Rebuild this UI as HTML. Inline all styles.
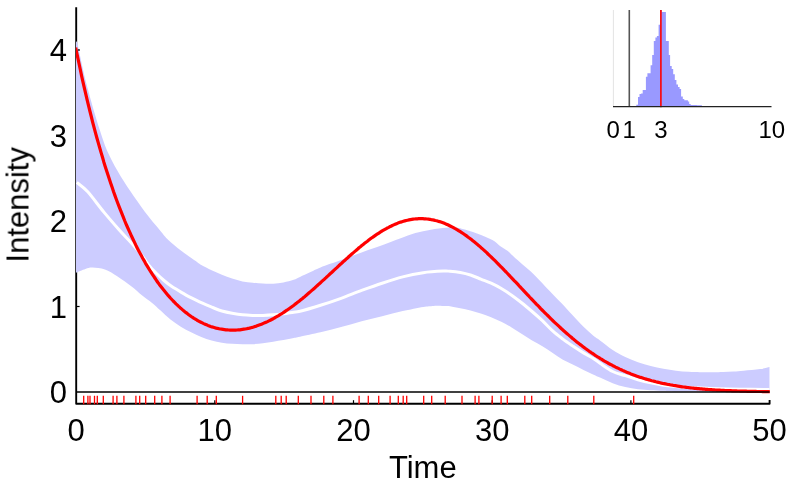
<!DOCTYPE html>
<html><head><meta charset="utf-8"><style>
html,body{margin:0;padding:0;background:#fff;}
svg{display:block;font-family:"Liberation Sans",sans-serif;}
</style></head><body>
<svg width="789" height="487" viewBox="0 0 789 487">
<rect width="789" height="487" fill="#fff"/>
<defs><clipPath id="cp"><rect x="75.9" y="0" width="693.9" height="420"/></clipPath></defs>
<g stroke="#000" stroke-width="1.9" fill="none">
<polyline points="76.2,7.2 76.2,403.7 769.6,403.7 769.6,400" stroke-linejoin="round"/>
</g>
<g stroke="#000" stroke-width="1.2"><line x1="76" y1="306.5" x2="79.6" y2="306.5"/><line x1="76" y1="221.0" x2="79.6" y2="221.0"/><line x1="76" y1="135.5" x2="79.6" y2="135.5"/><line x1="76" y1="50.0" x2="79.6" y2="50.0"/></g>
<g clip-path="url(#cp)">
<path d="M75.9,42.7 C76.2,42.9 76.2,38.9 77.4,43.6 C78.6,48.3 81.5,63.0 83.3,71.0 C85.1,79.0 86.7,84.8 88.5,91.6 C90.3,98.4 92.3,105.6 94.2,112.0 C96.1,118.4 97.7,123.6 99.8,130.0 C101.9,136.4 104.0,143.7 107.0,150.5 C110.0,157.3 113.7,164.2 117.6,171.0 C121.5,177.8 126.0,184.8 130.6,191.6 C135.2,198.4 140.2,205.6 145.0,212.0 C149.8,218.4 155.8,225.3 159.7,230.0 C163.6,234.7 165.1,236.9 168.6,240.3 C172.1,243.7 176.4,247.1 180.9,250.5 C185.4,253.9 191.9,258.4 195.3,260.8 C198.7,263.2 198.6,263.5 201.3,265.1 C204.0,266.7 208.2,268.7 211.6,270.3 C215.0,271.9 218.5,273.4 221.9,274.8 C225.3,276.2 228.7,277.4 232.1,278.5 C235.5,279.6 239.0,280.7 242.4,281.4 C245.8,282.1 249.3,282.3 252.7,282.7 C256.1,283.1 259.5,283.4 262.9,283.6 C266.3,283.8 269.8,283.9 273.2,283.7 C276.6,283.5 280.1,283.1 283.5,282.4 C286.9,281.7 290.9,280.6 293.7,279.7 C296.4,278.8 297.3,278.1 300.0,276.9 C302.7,275.7 306.6,273.9 310.0,272.3 C313.4,270.7 315.3,269.4 320.5,267.4 C325.7,265.3 334.2,262.5 341.1,260.0 C348.0,257.5 354.8,254.9 361.6,252.4 C368.4,249.9 375.7,247.5 382.1,245.2 C388.5,242.9 394.4,240.5 400.0,238.5 C405.6,236.5 410.3,234.6 415.4,233.1 C420.5,231.6 425.7,230.6 430.8,229.7 C435.9,228.8 442.2,228.0 446.2,227.7 C450.2,227.3 452.4,227.4 455.0,227.6 C457.6,227.8 457.9,227.8 461.6,228.8 C465.3,229.8 471.9,231.5 477.0,233.4 C482.1,235.3 488.6,237.9 492.4,240.0 C496.2,242.1 497.4,244.1 500.0,245.9 C502.6,247.7 505.2,248.9 507.8,251.0 C510.4,253.1 511.6,254.8 515.4,258.2 C519.2,261.6 525.7,266.7 530.8,271.6 C535.9,276.5 541.1,282.1 546.2,287.4 C551.3,292.7 557.2,298.6 561.6,303.2 C566.0,307.8 568.8,311.1 572.4,315.0 C576.0,318.9 580.0,323.3 583.5,326.8 C587.0,330.3 591.0,333.8 593.7,336.1 C596.5,338.4 596.8,338.1 600.0,340.4 C603.2,342.7 608.5,347.2 612.7,350.0 C616.9,352.8 621.1,354.9 625.3,357.0 C629.5,359.1 633.8,360.8 638.0,362.3 C642.2,363.8 646.5,365.0 650.7,366.1 C654.9,367.2 659.2,368.0 663.4,368.8 C667.6,369.6 671.8,370.2 676.0,370.7 C680.2,371.2 684.7,371.6 688.7,371.8 C692.7,372.1 696.0,372.1 700.0,372.2 C704.0,372.3 709.0,372.2 712.9,372.2 C716.8,372.2 719.8,372.1 723.2,372.0 C726.6,371.9 730.1,371.8 733.5,371.6 C736.9,371.4 739.3,371.2 743.7,370.8 C748.1,370.4 755.7,369.7 760.0,369.1 C764.3,368.5 768.0,367.4 769.6,367.0 L769.6,391.5 C754.7,391.5 697.7,391.6 680.0,391.5 C662.3,391.4 668.3,391.0 663.4,390.8 C658.5,390.6 654.9,390.6 650.7,390.3 C646.5,390.1 642.2,389.8 638.0,389.3 C633.8,388.8 629.5,388.1 625.3,387.1 C621.1,386.1 616.9,384.8 612.7,383.2 C608.5,381.6 603.2,379.0 600.0,377.6 C596.8,376.2 596.5,376.0 593.7,374.7 C591.0,373.4 586.9,371.5 583.5,369.9 C580.1,368.2 576.6,366.5 573.2,364.8 C569.8,363.1 566.3,361.6 562.9,359.7 C559.5,357.8 556.1,355.3 552.7,353.1 C549.3,350.9 545.8,348.4 542.4,346.3 C539.0,344.2 535.5,342.7 532.1,340.6 C528.7,338.6 525.3,336.2 521.9,334.0 C518.5,331.8 515.0,329.4 511.6,327.4 C508.2,325.3 504.7,323.4 501.3,321.7 C497.9,320.0 494.5,318.6 491.1,317.2 C487.7,315.8 484.2,314.6 480.8,313.5 C477.4,312.4 473.9,311.3 470.5,310.4 C467.1,309.5 463.7,309.0 460.3,308.3 C456.9,307.6 452.8,306.7 450.0,306.3 C447.2,305.9 446.4,306.1 443.7,306.0 C440.9,305.9 436.9,305.7 433.5,305.9 C430.1,306.1 428.3,306.1 423.2,307.0 C418.1,307.9 409.5,309.6 402.7,311.1 C395.9,312.6 389.0,314.5 382.1,316.2 C375.2,317.9 368.4,319.5 361.6,321.3 C354.8,323.1 348.0,325.3 341.1,327.1 C334.2,328.9 327.4,330.6 320.5,332.2 C313.6,333.8 304.5,335.7 300.0,336.7 C295.5,337.7 296.4,337.4 293.7,338.0 C290.9,338.6 286.9,339.5 283.5,340.1 C280.1,340.7 276.6,341.2 273.2,341.7 C269.8,342.2 266.3,342.8 262.9,343.2 C259.5,343.6 256.1,344.0 252.7,344.2 C249.3,344.4 245.8,344.3 242.4,344.2 C239.0,344.1 235.5,344.0 232.1,343.8 C228.7,343.6 225.3,343.4 221.9,342.8 C218.5,342.2 215.0,341.5 211.6,340.5 C208.2,339.5 204.7,338.4 201.3,337.0 C197.9,335.6 194.5,334.0 191.1,332.3 C187.7,330.6 184.2,328.8 180.8,326.7 C177.4,324.6 173.9,322.2 170.5,319.5 C167.1,316.8 163.4,313.1 160.3,310.3 C157.2,307.5 155.2,305.4 152.1,302.9 C149.0,300.4 145.3,298.0 141.9,295.3 C138.5,292.6 135.7,289.7 131.6,286.5 C127.5,283.3 121.7,279.1 117.2,276.2 C112.8,273.3 109.0,270.8 104.9,269.4 C100.8,268.0 95.8,267.7 92.6,267.6 C89.3,267.5 88.2,268.1 85.4,269.0 C82.6,269.9 77.5,272.1 75.9,272.7Z" fill="#ccccff"/>
<path d="M76.8,182.4 C78.6,183.9 83.0,186.7 87.5,191.6 C92.0,196.5 98.6,205.7 103.9,212.1 C109.2,218.5 114.7,224.8 119.3,230.0 C123.9,235.2 127.8,239.1 131.6,243.3 C135.4,247.5 139.1,251.7 141.9,255.3 C144.7,258.9 146.2,262.1 148.6,265.0 C150.9,267.9 153.4,270.4 156.0,273.0 C158.6,275.6 161.4,278.3 164.0,280.5 C166.6,282.7 168.5,284.3 171.5,286.3 C174.5,288.3 178.4,290.6 181.8,292.6 C185.2,294.6 188.6,296.4 192.0,298.2 C195.4,300.0 199.1,301.6 202.5,303.2 C205.9,304.8 209.4,306.2 212.6,307.5 C215.8,308.8 218.7,310.1 221.9,311.0 C225.2,311.9 228.7,312.6 232.1,313.2 C235.5,313.8 239.0,314.4 242.4,314.8 C245.8,315.2 249.3,315.3 252.7,315.4 C256.1,315.5 259.5,315.5 262.9,315.4 C266.3,315.3 269.8,315.1 273.2,314.8 C276.6,314.5 280.1,314.2 283.5,313.8 C286.9,313.4 290.9,312.6 293.7,312.2 C296.4,311.8 295.5,312.4 300.0,311.3 C304.5,310.2 313.6,307.5 320.5,305.3 C327.4,303.1 334.2,300.8 341.1,298.3 C348.0,295.8 354.8,292.9 361.6,290.4 C368.4,287.9 375.2,285.4 382.1,283.2 C389.0,280.9 395.9,278.6 402.7,276.9 C409.5,275.1 416.4,273.7 423.2,272.7 C430.0,271.7 439.2,271.3 443.7,271.1 C448.2,270.9 447.2,271.1 450.0,271.3 C452.8,271.5 456.9,271.9 460.3,272.5 C463.7,273.1 467.1,273.9 470.5,275.0 C473.9,276.1 477.4,277.7 480.8,279.1 C484.2,280.5 487.7,281.6 491.1,283.2 C494.5,284.8 497.9,286.5 501.3,288.5 C504.7,290.5 508.2,292.8 511.6,295.2 C515.0,297.6 518.5,300.3 521.9,303.0 C525.3,305.7 528.7,308.6 532.1,311.5 C535.5,314.4 539.0,317.5 542.4,320.7 C545.8,323.9 549.3,327.8 552.7,330.9 C556.1,334.0 559.5,336.5 562.9,339.1 C566.3,341.7 569.8,344.0 573.2,346.3 C576.6,348.6 580.1,350.8 583.5,352.9 C586.9,355.0 591.0,357.0 593.7,358.7 C596.5,360.4 596.8,361.2 600.0,363.3 C603.2,365.4 608.5,369.4 612.7,371.5 C616.9,373.6 621.1,374.3 625.3,375.7 C629.5,377.1 633.8,378.5 638.0,379.7 C642.2,380.9 646.5,382.0 650.7,382.9 C654.9,383.8 659.2,384.6 663.4,385.2 C667.6,385.8 671.6,386.1 676.0,386.5 C680.4,386.9 684.3,387.3 690.0,387.6 C695.7,387.9 701.7,388.1 710.0,388.4 C718.3,388.7 730.1,389.0 740.0,389.2 C749.9,389.4 764.7,389.5 769.6,389.6" fill="none" stroke="#fff" stroke-width="3" stroke-linejoin="round"/>
<path d="M75.7,47.6 L76.1,49.7 L77.5,56.4 L78.9,63.0 L80.3,69.5 L81.6,75.9 L83.0,82.1 L84.4,88.2 L85.8,94.2 L87.2,100.1 L88.6,105.8 L90.0,111.5 L91.4,117.0 L92.7,122.4 L94.1,127.7 L95.5,132.9 L96.9,138.0 L98.3,142.9 L99.7,147.8 L101.1,152.6 L102.5,157.3 L103.8,161.9 L105.2,166.4 L106.6,170.8 L108.0,175.1 L109.4,179.3 L110.8,183.5 L112.2,187.5 L113.5,191.5 L114.9,195.4 L116.3,199.2 L117.7,203.0 L119.1,206.6 L120.5,210.2 L121.9,213.7 L123.3,217.1 L124.6,220.5 L126.0,223.8 L127.4,227.0 L128.8,230.1 L130.2,233.2 L131.6,236.3 L133.0,239.2 L134.4,242.1 L135.7,244.9 L137.1,247.7 L138.5,250.4 L139.9,253.0 L141.3,255.6 L142.7,258.2 L144.1,260.6 L145.4,263.1 L146.8,265.4 L148.2,267.7 L149.6,270.0 L151.0,272.2 L152.4,274.3 L153.8,276.4 L155.2,278.5 L156.5,280.5 L157.9,282.5 L159.3,284.4 L160.7,286.2 L162.1,288.0 L163.5,289.8 L164.9,291.5 L166.3,293.2 L167.6,294.9 L169.0,296.4 L170.4,298.0 L171.8,299.5 L173.2,301.0 L174.6,302.4 L176.0,303.8 L177.4,305.1 L178.7,306.4 L180.1,307.7 L181.5,308.9 L182.9,310.1 L184.3,311.3 L185.7,312.4 L187.1,313.4 L188.4,314.5 L189.8,315.5 L191.2,316.5 L192.6,317.4 L194.0,318.3 L195.4,319.1 L196.8,320.0 L198.2,320.8 L199.5,321.5 L200.9,322.2 L202.3,322.9 L203.7,323.6 L205.1,324.2 L206.5,324.8 L207.9,325.4 L209.3,325.9 L210.6,326.4 L212.0,326.9 L213.4,327.3 L214.8,327.7 L216.2,328.1 L217.6,328.4 L219.0,328.7 L220.3,329.0 L221.7,329.2 L223.1,329.4 L224.5,329.6 L225.9,329.8 L227.3,329.9 L228.7,330.0 L230.1,330.1 L231.4,330.1 L232.8,330.1 L234.2,330.1 L235.6,330.1 L237.0,330.0 L238.4,329.9 L239.8,329.8 L241.2,329.6 L242.5,329.4 L243.9,329.2 L245.3,329.0 L246.7,328.7 L248.1,328.4 L249.5,328.1 L250.9,327.7 L252.2,327.4 L253.6,327.0 L255.0,326.5 L256.4,326.1 L257.8,325.6 L259.2,325.1 L260.6,324.6 L262.0,324.0 L263.3,323.4 L264.7,322.8 L266.1,322.2 L267.5,321.6 L268.9,320.9 L270.3,320.2 L271.7,319.5 L273.1,318.8 L274.4,318.0 L275.8,317.2 L277.2,316.4 L278.6,315.6 L280.0,314.7 L281.4,313.9 L282.8,313.0 L284.1,312.1 L285.5,311.1 L286.9,310.2 L288.3,309.2 L289.7,308.2 L291.1,307.2 L292.5,306.2 L293.9,305.2 L295.2,304.1 L296.6,303.1 L298.0,302.0 L299.4,300.9 L300.8,299.8 L302.2,298.7 L303.6,297.5 L305.0,296.4 L306.3,295.2 L307.7,294.0 L309.1,292.8 L310.5,291.6 L311.9,290.4 L313.3,289.2 L314.7,288.0 L316.1,286.7 L317.4,285.5 L318.8,284.2 L320.2,283.0 L321.6,281.7 L323.0,280.4 L324.4,279.2 L325.8,277.9 L327.1,276.6 L328.5,275.3 L329.9,274.0 L331.3,272.8 L332.7,271.5 L334.1,270.2 L335.5,268.9 L336.9,267.6 L338.2,266.3 L339.6,265.0 L341.0,263.8 L342.4,262.5 L343.8,261.2 L345.2,260.0 L346.6,258.7 L348.0,257.5 L349.3,256.2 L350.7,255.0 L352.1,253.8 L353.5,252.6 L354.9,251.4 L356.3,250.2 L357.7,249.0 L359.0,247.8 L360.4,246.7 L361.8,245.5 L363.2,244.4 L364.6,243.3 L366.0,242.2 L367.4,241.2 L368.8,240.1 L370.1,239.1 L371.5,238.0 L372.9,237.1 L374.3,236.1 L375.7,235.1 L377.1,234.2 L378.5,233.3 L379.9,232.4 L381.2,231.5 L382.6,230.7 L384.0,229.9 L385.4,229.1 L386.8,228.3 L388.2,227.6 L389.6,226.8 L390.9,226.2 L392.3,225.5 L393.7,224.9 L395.1,224.3 L396.5,223.7 L397.9,223.1 L399.3,222.6 L400.7,222.1 L402.0,221.7 L403.4,221.3 L404.8,220.9 L406.2,220.5 L407.6,220.2 L409.0,219.9 L410.4,219.6 L411.8,219.4 L413.1,219.2 L414.5,219.0 L415.9,218.9 L417.3,218.8 L418.7,218.7 L420.1,218.7 L421.5,218.7 L422.9,218.7 L424.2,218.8 L425.6,218.9 L427.0,219.0 L428.4,219.1 L429.8,219.3 L431.2,219.6 L432.6,219.8 L433.9,220.1 L435.3,220.5 L436.7,220.8 L438.1,221.2 L439.5,221.6 L440.9,222.1 L442.3,222.6 L443.7,223.1 L445.0,223.6 L446.4,224.2 L447.8,224.8 L449.2,225.5 L450.6,226.2 L452.0,226.9 L453.4,227.6 L454.8,228.4 L456.1,229.1 L457.5,230.0 L458.9,230.8 L460.3,231.7 L461.7,232.6 L463.1,233.5 L464.5,234.5 L465.8,235.4 L467.2,236.4 L468.6,237.5 L470.0,238.5 L471.4,239.6 L472.8,240.7 L474.2,241.8 L475.6,242.9 L476.9,244.1 L478.3,245.2 L479.7,246.4 L481.1,247.7 L482.5,248.9 L483.9,250.1 L485.3,251.4 L486.7,252.7 L488.0,254.0 L489.4,255.3 L490.8,256.6 L492.2,258.0 L493.6,259.3 L495.0,260.7 L496.4,262.1 L497.7,263.5 L499.1,264.9 L500.5,266.3 L501.9,267.7 L503.3,269.1 L504.7,270.6 L506.1,272.0 L507.5,273.5 L508.8,274.9 L510.2,276.4 L511.6,277.8 L513.0,279.3 L514.4,280.8 L515.8,282.2 L517.2,283.7 L518.6,285.2 L519.9,286.7 L521.3,288.2 L522.7,289.6 L524.1,291.1 L525.5,292.6 L526.9,294.1 L528.3,295.5 L529.6,297.0 L531.0,298.5 L532.4,299.9 L533.8,301.4 L535.2,302.8 L536.6,304.3 L538.0,305.7 L539.4,307.1 L540.7,308.6 L542.1,310.0 L543.5,311.4 L544.9,312.8 L546.3,314.2 L547.7,315.5 L549.1,316.9 L550.5,318.3 L551.8,319.6 L553.2,321.0 L554.6,322.3 L556.0,323.6 L557.4,324.9 L558.8,326.2 L560.2,327.5 L561.5,328.8 L562.9,330.0 L564.3,331.3 L565.7,332.5 L567.1,333.7 L568.5,334.9 L569.9,336.1 L571.3,337.3 L572.6,338.5 L574.0,339.6 L575.4,340.8 L576.8,341.9 L578.2,343.0 L579.6,344.1 L581.0,345.1 L582.4,346.2 L583.7,347.2 L585.1,348.3 L586.5,349.3 L587.9,350.3 L589.3,351.3 L590.7,352.2 L592.1,353.2 L593.5,354.1 L594.8,355.1 L596.2,356.0 L597.6,356.9 L599.0,357.7 L600.4,358.6 L601.8,359.4 L603.2,360.3 L604.5,361.1 L605.9,361.9 L607.3,362.7 L608.7,363.5 L610.1,364.2 L611.5,364.9 L612.9,365.7 L614.3,366.4 L615.6,367.1 L617.0,367.8 L618.4,368.4 L619.8,369.1 L621.2,369.7 L622.6,370.4 L624.0,371.0 L625.4,371.6 L626.7,372.2 L628.1,372.8 L629.5,373.3 L630.9,373.9 L632.3,374.4 L633.7,374.9 L635.1,375.4 L636.4,375.9 L637.8,376.4 L639.2,376.9 L640.6,377.4 L642.0,377.8 L643.4,378.3 L644.8,378.7 L646.2,379.1 L647.5,379.5 L648.9,379.9 L650.3,380.3 L651.7,380.7 L653.1,381.0 L654.5,381.4 L655.9,381.8 L657.3,382.1 L658.6,382.4 L660.0,382.7 L661.4,383.1 L662.8,383.4 L664.2,383.6 L665.6,383.9 L667.0,384.2 L668.3,384.5 L669.7,384.7 L671.1,385.0 L672.5,385.2 L673.9,385.5 L675.3,385.7 L676.7,385.9 L678.1,386.2 L679.4,386.4 L680.8,386.6 L682.2,386.8 L683.6,387.0 L685.0,387.1 L686.4,387.3 L687.8,387.5 L689.2,387.7 L690.5,387.8 L691.9,388.0 L693.3,388.1 L694.7,388.3 L696.1,388.4 L697.5,388.6 L698.9,388.7 L700.2,388.8 L701.6,388.9 L703.0,389.1 L704.4,389.2 L705.8,389.3 L707.2,389.4 L708.6,389.5 L710.0,389.6 L711.3,389.7 L712.7,389.8 L714.1,389.9 L715.5,390.0 L716.9,390.1 L718.3,390.1 L719.7,390.2 L721.1,390.3 L722.4,390.4 L723.8,390.4 L725.2,390.5 L726.6,390.6 L728.0,390.6 L729.4,390.7 L730.8,390.7 L732.2,390.8 L733.5,390.8 L734.9,390.9 L736.3,390.9 L737.7,391.0 L739.1,391.0 L740.5,391.1 L741.9,391.1 L743.2,391.2 L744.6,391.2 L746.0,391.2 L747.4,391.3 L748.8,391.3 L750.2,391.3 L751.6,391.4 L753.0,391.4 L754.3,391.4 L755.7,391.4 L757.1,391.5 L758.5,391.5 L759.9,391.5 L761.3,391.5 L762.7,391.6 L764.1,391.6 L765.4,391.6 L766.8,391.6 L768.2,391.6 L769.6,391.7 L770.3,391.7" fill="none" stroke="#ff0000" stroke-width="3.2" stroke-linejoin="round"/>
</g>
<line x1="76" y1="392" x2="769.6" y2="392" stroke="#000" stroke-width="1.7"/>
<line x1="77.8" y1="50" x2="79.6" y2="50" stroke="#000" stroke-width="1.2"/>
<g stroke="#000" stroke-width="1.2"><line x1="214.8" y1="400.2" x2="214.8" y2="403.7"/><line x1="353.5" y1="400.2" x2="353.5" y2="403.7"/><line x1="492.2" y1="400.2" x2="492.2" y2="403.7"/><line x1="630.9" y1="400.2" x2="630.9" y2="403.7"/></g>
<g stroke="#ff0000" stroke-width="1.3"><line x1="83.7" y1="395.8" x2="83.7" y2="404.3"/><line x1="87.9" y1="395.8" x2="87.9" y2="404.3"/><line x1="90.0" y1="395.8" x2="90.0" y2="404.3"/><line x1="94.5" y1="395.8" x2="94.5" y2="404.3"/><line x1="97.3" y1="395.8" x2="97.3" y2="404.3"/><line x1="103.3" y1="395.8" x2="103.3" y2="404.3"/><line x1="113.1" y1="395.8" x2="113.1" y2="404.3"/><line x1="116.9" y1="395.8" x2="116.9" y2="404.3"/><line x1="123.9" y1="395.8" x2="123.9" y2="404.3"/><line x1="135.9" y1="395.8" x2="135.9" y2="404.3"/><line x1="139.7" y1="395.8" x2="139.7" y2="404.3"/><line x1="145.7" y1="395.8" x2="145.7" y2="404.3"/><line x1="154.7" y1="395.8" x2="154.7" y2="404.3"/><line x1="161.9" y1="395.8" x2="161.9" y2="404.3"/><line x1="170.1" y1="395.8" x2="170.1" y2="404.3"/><line x1="197.1" y1="395.8" x2="197.1" y2="404.3"/><line x1="207.2" y1="395.8" x2="207.2" y2="404.3"/><line x1="216.3" y1="395.8" x2="216.3" y2="404.3"/><line x1="242.6" y1="395.8" x2="242.6" y2="404.3"/><line x1="275.8" y1="395.8" x2="275.8" y2="404.3"/><line x1="281.2" y1="395.8" x2="281.2" y2="404.3"/><line x1="286.2" y1="395.8" x2="286.2" y2="404.3"/><line x1="298.3" y1="395.8" x2="298.3" y2="404.3"/><line x1="311.0" y1="395.8" x2="311.0" y2="404.3"/><line x1="323.8" y1="395.8" x2="323.8" y2="404.3"/><line x1="332.9" y1="395.8" x2="332.9" y2="404.3"/><line x1="359.1" y1="395.8" x2="359.1" y2="404.3"/><line x1="368.3" y1="395.8" x2="368.3" y2="404.3"/><line x1="378.7" y1="395.8" x2="378.7" y2="404.3"/><line x1="390.1" y1="395.8" x2="390.1" y2="404.3"/><line x1="398.3" y1="395.8" x2="398.3" y2="404.3"/><line x1="403.2" y1="395.8" x2="403.2" y2="404.3"/><line x1="406.7" y1="395.8" x2="406.7" y2="404.3"/><line x1="423.7" y1="395.8" x2="423.7" y2="404.3"/><line x1="431.7" y1="395.8" x2="431.7" y2="404.3"/><line x1="445.2" y1="395.8" x2="445.2" y2="404.3"/><line x1="462.0" y1="395.8" x2="462.0" y2="404.3"/><line x1="475.1" y1="395.8" x2="475.1" y2="404.3"/><line x1="478.9" y1="395.8" x2="478.9" y2="404.3"/><line x1="492.2" y1="395.8" x2="492.2" y2="404.3"/><line x1="501.1" y1="395.8" x2="501.1" y2="404.3"/><line x1="507.3" y1="395.8" x2="507.3" y2="404.3"/><line x1="524.8" y1="395.8" x2="524.8" y2="404.3"/><line x1="531.7" y1="395.8" x2="531.7" y2="404.3"/><line x1="549.7" y1="395.8" x2="549.7" y2="404.3"/><line x1="567.8" y1="395.8" x2="567.8" y2="404.3"/><line x1="593.8" y1="395.8" x2="593.8" y2="404.3"/><line x1="633.7" y1="395.8" x2="633.7" y2="404.3"/></g>
<g font-size="31" fill="#000" opacity="0.999"><text x="76.1" y="441.2" text-anchor="middle">0</text><text x="214.8" y="441.2" text-anchor="middle">10</text><text x="353.5" y="441.2" text-anchor="middle">20</text><text x="492.2" y="441.2" text-anchor="middle">30</text><text x="630.9" y="441.2" text-anchor="middle">40</text><text x="769.6" y="441.2" text-anchor="middle">50</text><text x="66.9" y="403.2" text-anchor="end">0</text><text x="66.9" y="317.7" text-anchor="end">1</text><text x="66.9" y="232.2" text-anchor="end">2</text><text x="66.9" y="146.7" text-anchor="end">3</text><text x="66.9" y="61.2" text-anchor="end">4</text>
<text x="422.8" y="477.6" text-anchor="middle">Time</text>
<text transform="translate(28.5,204.8) rotate(-90)" text-anchor="middle">Intensity</text>
</g>
<!-- inset -->
<line x1="613.4" y1="10" x2="613.4" y2="106" stroke="#e4e4e4" stroke-width="1"/>
<path d="M636.3,106.0 L636.3,104.8 L638.0,104.8 L638.0,97.1 L639.5,97.1 L639.5,94.0 L641.1,94.0 L641.1,93.5 L642.7,93.5 L642.7,90.1 L644.3,90.1 L644.3,90.1 L645.9,90.1 L645.9,76.8 L647.4,76.8 L647.4,73.3 L649.0,73.3 L649.0,73.3 L650.6,73.3 L650.6,65.3 L652.2,65.3 L652.2,55.1 L653.8,55.1 L653.8,41.0 L655.4,41.0 L655.4,37.5 L656.9,37.5 L656.9,36.0 L658.6,36.0 L658.6,24.8 L660.1,24.8 L660.1,10.0 L661.8,10.0 L661.8,12.1 L663.3,12.1 L663.3,12.1 L665.9,12.1 L665.9,41.0 L668.8,41.0 L668.8,55.1 L670.1,55.1 L670.1,65.9 L671.7,65.9 L671.7,69.1 L673.2,69.1 L673.2,74.2 L674.8,74.2 L674.8,79.9 L676.4,79.9 L676.4,84.4 L678.0,84.4 L678.0,86.9 L679.6,86.9 L679.6,88.9 L681.1,88.9 L681.1,96.5 L682.8,96.5 L682.8,99.0 L684.3,99.0 L684.3,100.3 L687.9,100.3 L687.9,101.6 L689.2,101.6 L689.2,104.1 L690.7,104.1 L690.7,105.0 L696.8,105.0 L696.8,105.3 L701.9,105.3 L701.9,106.0Z" fill="#9999ff"/>
<line x1="629.3" y1="10" x2="629.3" y2="106" stroke="#555" stroke-width="1.6"/>
<line x1="660.9" y1="10" x2="660.9" y2="107.2" stroke="#ff0000" stroke-width="1.6"/>
<line x1="613" y1="106.6" x2="771.5" y2="106.6" stroke="#222" stroke-width="1.4"/>
<g font-size="24" fill="#000" opacity="0.999">
<text x="613.2" y="138.2" text-anchor="middle">0</text>
<text x="629.3" y="138.2" text-anchor="middle">1</text>
<text x="660.9" y="138.2" text-anchor="middle">3</text>
<text x="771.8" y="138.2" text-anchor="middle">10</text>
</g>
</svg>
</body></html>
